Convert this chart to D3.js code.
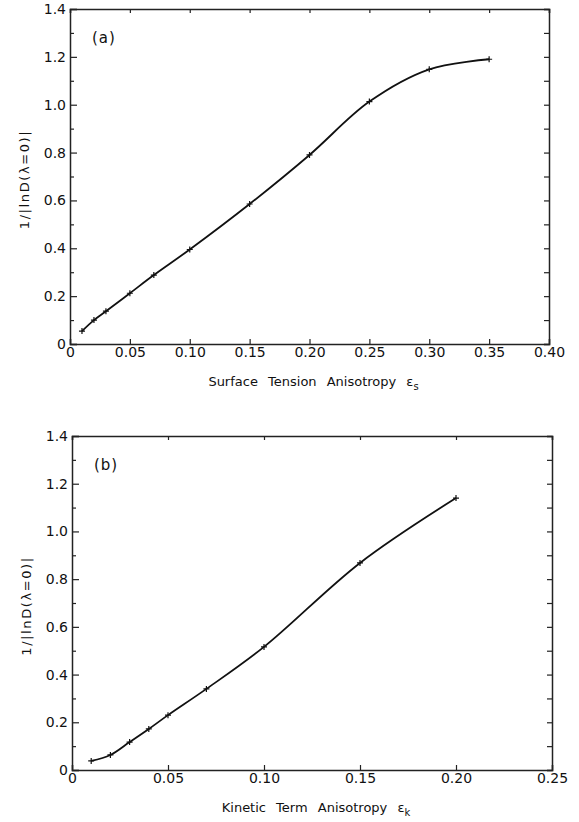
<!DOCTYPE html>
<html>
<head>
<meta charset="utf-8">
<script src="https://cdn.jsdelivr.net/npm/d3@7"></script>
<style>
  body { margin: 0; background: #fff; }
  svg { display: block; }
  text { font-family: "DejaVu Sans", "Liberation Sans", sans-serif; fill: #111; }
  .domain, .tick line { stroke: #222; }
</style>
</head>
<body>
<svg id="chart" width="579" height="822"></svg>
<script>
// panel (a): surface tension anisotropy
const epsS = [0.01, 0.02, 0.03, 0.05, 0.07, 0.10, 0.15, 0.20, 0.25, 0.30, 0.35];
const invLnDa = [0.054, 0.10, 0.137, 0.212, 0.288, 0.395, 0.585, 0.79, 1.013, 1.148, 1.19];

// panel (b): kinetic term anisotropy
const epsK = [0.01, 0.02, 0.03, 0.04, 0.05, 0.07, 0.10, 0.15, 0.20];
const invLnDb = [0.038, 0.063, 0.117, 0.172, 0.23, 0.34, 0.516, 0.868, 1.14];

const yTicks = [0, 0.2, 0.4, 0.6, 0.8, 1.0, 1.2, 1.4];
const yTickLabels = ["0", "0.2", "0.4", "0.6", "0.8", "1.0", "1.2", "1.4"];
const yMinor = [0.1, 0.3, 0.5, 0.7, 0.9, 1.1, 1.3];
const xTicksA = [0, 0.05, 0.10, 0.15, 0.20, 0.25, 0.30, 0.35, 0.40];
const xTickLabelsA = ["0", "0.05", "0.10", "0.15", "0.20", "0.25", "0.30", "0.35", "0.40"];
const xTicksB = [0, 0.05, 0.10, 0.15, 0.20, 0.25];
const xTickLabelsB = ["0", "0.05", "0.10", "0.15", "0.20", "0.25"];

const svg = d3.select('#chart');

function drawPanel(opts) {
  const { box, xMax, xTicks, xLabels, xs, ys, tag, title, sub } = opts;

  const x = d3.scaleLinear().domain([0, xMax]).range([box.left, box.right]);
  const y = d3.scaleLinear().domain([0, 1.4]).range([box.bottom, box.top]);
  const g = svg.append('g');

  // left axis: major ticks with labels, minor ticks, all pointing inward
  g.append('g')
    .attr('transform', `translate(${box.left},0)`)
    .call(d3.axisLeft(y).tickValues(yTicks)
      .tickFormat((d, i) => yTickLabels[i]).tickSize(-7).tickPadding(4))
    .call(a => a.selectAll('text').attr('font-size', 14));
  g.append('g')
    .attr('transform', `translate(${box.left},0)`)
    .call(d3.axisLeft(y).tickValues(yMinor).tickFormat('').tickSize(-4))
    .call(a => a.select('.domain').remove());

  // right axis
  g.append('g')
    .attr('transform', `translate(${box.right},0)`)
    .call(d3.axisRight(y).tickValues(yMinor.concat(yTicks)).tickFormat('').tickSize(-5));

  // top axis
  g.append('g')
    .attr('transform', `translate(0,${box.top})`)
    .call(d3.axisTop(x).tickValues(xTicks).tickFormat('').tickSize(-4));

  // bottom axis
  g.append('g')
    .attr('transform', `translate(0,${box.bottom})`)
    .call(d3.axisBottom(x).tickValues(xTicks)
      .tickFormat((d, i) => xLabels[i]).tickSize(-5).tickPadding(3))
    .call(a => a.selectAll('text').attr('font-size', 14));

  g.selectAll('.domain').attr('stroke-width', 1.5);
  g.selectAll('.tick line').attr('stroke-width', 1.2);

  // curve
  const pts = xs.map((v, i) => [v, ys[i]]);
  g.append('path')
    .datum(pts)
    .attr('fill', 'none')
    .attr('stroke', '#111')
    .attr('stroke-width', 1.8)
    .attr('d', d3.line().x(d => x(d[0])).y(d => y(d[1])).curve(d3.curveCatmullRom.alpha(0.5)));

  // cross markers
  g.selectAll('path.pt')
    .data(pts)
    .join('path')
    .attr('class', 'pt')
    .attr('stroke', '#111')
    .attr('stroke-width', 1.2)
    .attr('d', d => `M${x(d[0]) - 3},${y(d[1])}h6M${x(d[0])},${y(d[1]) - 3}v6`);

  // panel tag
  g.append('text')
    .attr('x', box.left + 22)
    .attr('y', box.top + 34)
    .attr('font-size', 15)
    .attr('letter-spacing', 1)
    .text(tag);

  // y label
  g.append('text')
    .attr('transform', `translate(${box.left - 41},${(box.top + box.bottom) / 2 + 3}) rotate(-90)`)
    .attr('text-anchor', 'middle')
    .attr('font-size', 13)
    .attr('letter-spacing', 1.6)
    .text('1/|lnD(λ=0)|');

  // x label
  const xl = g.append('text')
    .attr('x', (box.left + box.right) / 2 + 4)
    .attr('y', box.bottom + 42)
    .attr('text-anchor', 'middle')
    .attr('font-size', 13)
    .attr('word-spacing', 6)
    .text(title + ' ε');
  xl.append('tspan').attr('dy', 4).attr('font-size', 10).text(sub);
}

drawPanel({
  box: { left: 70, right: 549, top: 9, bottom: 344 },
  xMax: 0.40, xTicks: xTicksA, xLabels: xTickLabelsA,
  xs: epsS, ys: invLnDa, tag: '(a)',
  title: 'Surface Tension Anisotropy', sub: 's'
});

drawPanel({
  box: { left: 72, right: 552, top: 436, bottom: 770 },
  xMax: 0.25, xTicks: xTicksB, xLabels: xTickLabelsB,
  xs: epsK, ys: invLnDb, tag: '(b)',
  title: 'Kinetic Term Anisotropy', sub: 'k'
});
</script>
</body>
</html>
